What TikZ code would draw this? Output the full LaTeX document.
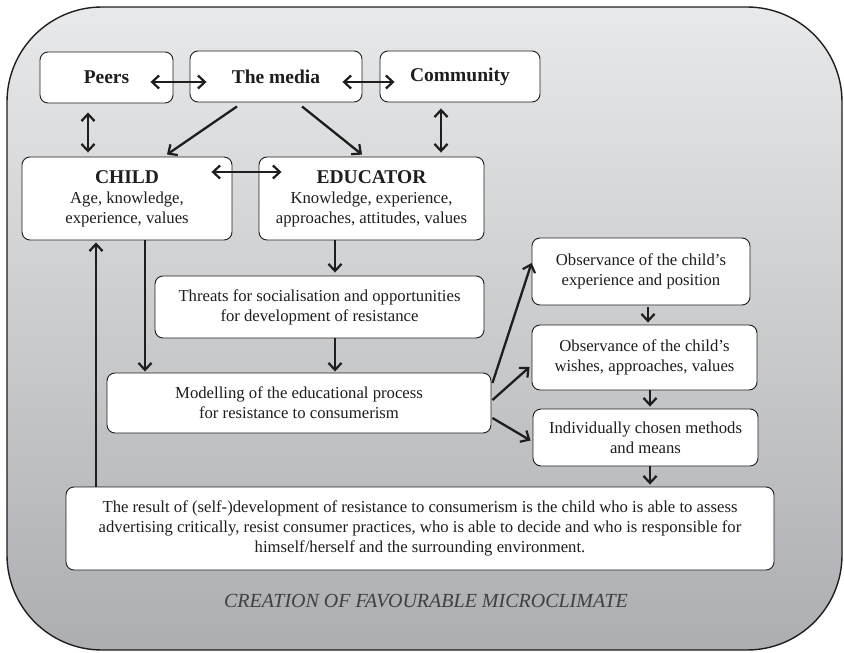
\documentclass[tikz,border=0pt]{standalone}
\usepackage{fontspec}
\setmainfont{Liberation Serif}
\usetikzlibrary{arrows.meta,calc}
\definecolor{bgtop}{RGB}{232,233,234}
\definecolor{bgbot}{RGB}{172,174,177}
\definecolor{ink}{RGB}{30,30,30}
\begin{document}
\begin{tikzpicture}[x=1pt,y=-1pt,
  box/.style={draw=ink,line width=0.9pt,fill=white,rounded corners=8pt,align=center,text=ink,inner sep=2pt,
    font=\fontsize{16.7}{20}\selectfont},
  titlebox/.style={box,font=\fontsize{19.5}{22}\selectfont\bfseries},
  tip/.tip={Straight Barb[length=7pt,width=13pt,line width=2.2pt]},
  arr/.style={draw=ink,line width=2.3pt,-tip},
  darr/.style={draw=ink,line width=2.3pt,tip-tip}
]
\useasboundingbox (0,0) rectangle (844,653);
\path[draw=ink,line width=1.4pt,top color=bgtop,bottom color=bgbot,rounded corners=95pt] (7,7) rectangle (842,650);

\node[titlebox,minimum width=133pt,minimum height=51pt] (peers) at (106.5,77.5) {Peers};
\node[titlebox,minimum width=172pt,minimum height=51pt] (media) at (276,76.5) {The media};
\node[titlebox,minimum width=160pt,minimum height=51pt] (comm) at (460,76.5) {Community};
\node[box,minimum width=210pt,minimum height=83pt] (child) at (127,198.5)
  {{\fontsize{19.5}{22}\selectfont\bfseries CHILD}\\Age, knowledge,\\experience, values};
\node[box,minimum width=225pt,minimum height=83pt] (edu) at (371.5,198.5)
  {{\fontsize{19.5}{22}\selectfont\bfseries EDUCATOR}\\Knowledge, experience,\\approaches, attitudes, values};
\node[box,minimum width=329pt,minimum height=62pt] (threat) at (319.5,307)
  {Threats for socialisation and opportunities\\for development of resistance};
\node[box,minimum width=384pt,minimum height=60pt] (model) at (299,403)
  {Modelling of the educational process\\for resistance to consumerism};
\node[box,minimum width=218pt,minimum height=67pt] (obs1) at (641,271.5)
  {Observance of the child’s\\experience and position};
\node[box,minimum width=225pt,minimum height=65pt] (obs2) at (644.5,357.5)
  {Observance of the child’s\\wishes, approaches, values};
\node[box,minimum width=225pt,minimum height=57pt] (indiv) at (645.5,437.5)
  {Individually chosen methods\\and means};
\node[box,minimum width=708pt,minimum height=83pt] (result) at (420,528.5)
  {The result of (self-)development of resistance to consumerism is the child who is able to assess\\
   advertising critically, resist consumer practices, who is able to decide and who is responsible for\\
   himself/herself and the surrounding environment.};
\node[text=ink!85,font=\fontsize{20}{22}\selectfont\itshape] (cap) at (426,601) {CREATION OF FAVOURABLE MICROCLIMATE};

\draw[darr] ($(peers.east)+(-23,4.5)$) -- ($(media.west)+(17,5.5)$);
\draw[darr] ($(media.east)+(-20,5.5)$) -- ($(comm.west)+(15,5.5)$);
\draw[darr] ($(peers.south)+(-18.5,9)$) -- ($(child.north)+(-39,-4)$);
\draw[darr] ($(comm.south)+(-19,6)$) -- ($(edu.north)+(69.5,-4)$);
\draw[arr] ($(media.south)+(-39,4)$) -- ($(child.north)+(40,-2)$);
\draw[arr] ($(media.south)+(26,4)$) -- ($(edu.north)+(-9.5,-2)$);
\draw[darr] ($(child.east)+(-21,-26.5)$) -- ($(edu.west)+(23,-26.5)$);
\draw[arr] ($(edu.south)+(-36.5,0)$) -- ($(threat.north)+(15.5,-3)$);
\draw[arr] ($(child.south)+(18,0)$) -- ($(model.north)+(-154,-1)$);
\draw[arr] ($(threat.south)+(15.5,0)$) -- ($(model.north)+(36,-1)$);
\draw[arr] ($(result.north)+(-324,0)$) -- ($(child.south)+(-31,2)$);
\draw[arr] ($(model.east)+(1,-20)$) -- ($(obs1.west)+(0,-8.5)$);
\draw[arr] ($(model.east)+(1,-3)$) -- ($(obs2.west)+(-2,9.5)$);
\draw[arr] ($(model.east)+(1,15)$) -- ($(indiv.west)+(-2,3)$);
\draw[arr] ($(obs1.south)+(7,2)$) -- ($(obs2.north)+(3.5,-2)$);
\draw[arr] ($(obs2.south)+(5.5,0)$) -- ($(indiv.north)+(4.5,-2)$);
\draw[arr] ($(indiv.south)+(4.5,0)$) -- ($(result.north)+(230,-2)$);
\end{tikzpicture}
\end{document}
